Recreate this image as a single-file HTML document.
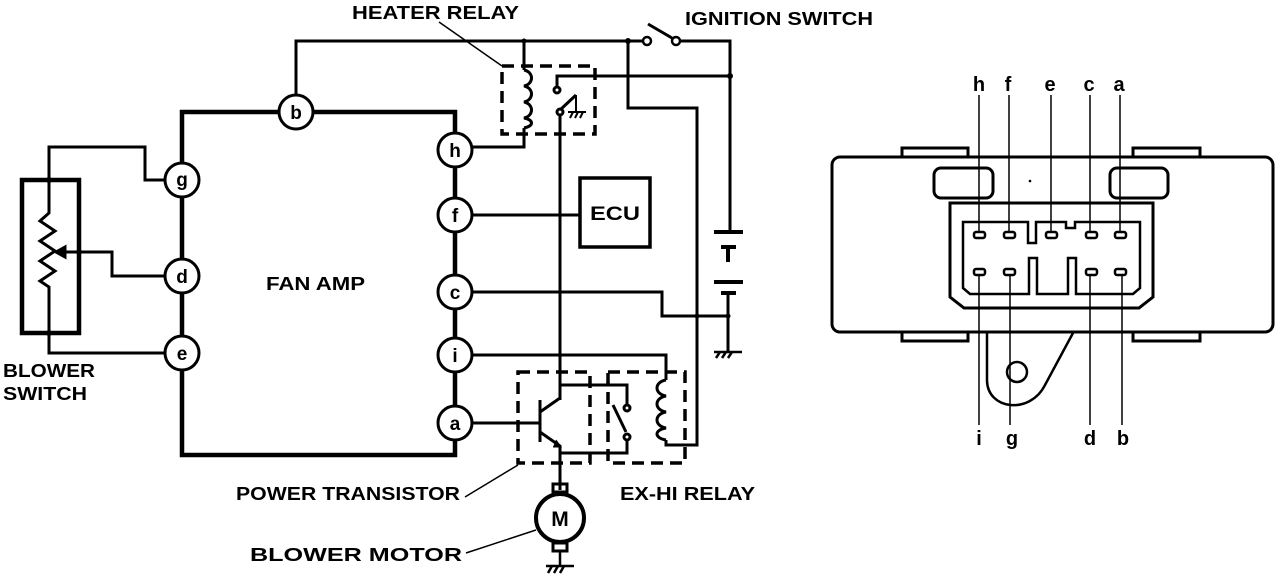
<!DOCTYPE html>
<html><head><meta charset="utf-8"><style>
html,body{margin:0;padding:0;background:#fff;width:1280px;height:582px;overflow:hidden}
svg{display:block}
text{font-family:"Liberation Sans",sans-serif;font-weight:bold;fill:#000}
</style></head><body>
<svg width="1280" height="582" viewBox="0 0 1280 582" xmlns="http://www.w3.org/2000/svg">
<g fill="none" stroke="#000" stroke-width="3" stroke-linejoin="miter">
<path d="M182,180 V112 H455 V455 H182 V180" stroke-width="4.5"/>
<path d="M296,112 V41 H643"/>
<path d="M680,41 H730 V232"/>
<line x1="648" y1="24" x2="672" y2="38"/>
<rect x="502" y="66" width="93" height="68" stroke-dasharray="12,7" stroke-width="3.5"/>
<path d="M524,41 V70 M524,128 V147 H472"/>
<path d="M524,70 c10,2 10,14 0,16 c10,2 10,14 0,16 c10,2 10,14 0,16 c10,2 10,8 0,10"/>
<path d="M730,76 H557 V88"/>
<circle cx="557" cy="90" r="3" fill="#fff"/>
<circle cx="560" cy="112" r="3" fill="#fff"/>
<line x1="560" y1="110" x2="576" y2="95"/>
<path d="M576,95 V112 M568,112 H586 M570,118 l3,-6 M575,118 l3,-6 M580,118 l3,-6" stroke-width="2"/>
<line x1="560" y1="115" x2="560" y2="400"/>
<path d="M628,41 V108 H697 V445 H666 V440"/>
<rect x="580" y="178" width="70" height="69" stroke-width="3.5"/>
<line x1="472" y1="215" x2="580" y2="215"/>
<path d="M472,292 H662 V316 H728"/>
<path d="M714,232 H743 M721,247 H736 M728,247 V262 M714,282 H743 M721,293 H736" stroke-width="4"/>
<path d="M728,293 V352"/>
<path d="M714,352 H742 M716,358 l4,-6 M722,358 l4,-6 M728,358 l4,-6" stroke-width="2.5"/>
<path d="M472,355 H666 V380"/>
<rect x="518" y="372" width="72" height="91" stroke-dasharray="12,7" stroke-width="3.5"/>
<rect x="608" y="372" width="77" height="91" stroke-dasharray="12,7" stroke-width="3.5"/>
<path d="M472,423 H540 M540,400 V442 M540,412 L560,398 M540,432 L560,446 V453 H627 V440 M560,453 V490 M560,385 H627 V405"/>
<path d="M556,440 l5,7 l-8,0" fill="#000" stroke-width="1"/>
<circle cx="627" cy="408" r="3" fill="#fff"/>
<circle cx="627" cy="437" r="3" fill="#fff"/>
<line x1="613" y1="405" x2="626" y2="432"/>
<path d="M666,380 c-12,2 -12,14 0,16 c-12,2 -12,14 0,16 c-12,2 -12,14 0,16 c-12,2 -12,10 0,12"/>
<rect x="553" y="484" width="14" height="8" stroke-width="3"/>
<circle cx="560" cy="518" r="24" stroke-width="4"/>
<rect x="553" y="543" width="14" height="8" stroke-width="3"/>
<path d="M560,551 V566 M546,566 H574 M548,573 l4,-7 M554,573 l4,-7 M560,573 l4,-7" stroke-width="2.5"/>
<rect x="22" y="180" width="57" height="153" stroke-width="4.5"/>
<path d="M182,180 H145 V147 H49 V180 V213 l-9,8 l15,10 l-15,10 l15,10 l-15,10 l15,10 l-15,10 l9,6 V333 V353 H165"/>
<path d="M79,252 H112 V276 H165 M79,252 H60"/>
<path d="M56,252 l9,-5 v10 z" fill="#000"/>
<line x1="439" y1="22" x2="502" y2="66" stroke-width="1.5"/>
<line x1="465" y1="497" x2="518" y2="465" stroke-width="1.5"/>
<line x1="466" y1="553" x2="536" y2="530" stroke-width="1.5"/>
</g>
<g fill="#fff" stroke="#000" stroke-width="2.5">
<circle cx="647" cy="41" r="4"/><circle cx="676" cy="41" r="4"/>
</g>
<g fill="#000">
<circle cx="49" cy="180" r="3"/><circle cx="79" cy="252" r="3"/><circle cx="49" cy="333" r="3"/>
<circle cx="524" cy="41" r="2.5"/><circle cx="628" cy="41" r="3"/><circle cx="730" cy="76" r="3"/>
<circle cx="697" cy="316" r="2.5"/><circle cx="728" cy="316" r="2.5"/>
</g>
<g fill="#fff" stroke="#000" stroke-width="3">
<circle cx="296" cy="112" r="17"/><circle cx="182" cy="180" r="17"/><circle cx="182" cy="276" r="17"/><circle cx="182" cy="353" r="17"/>
<circle cx="455" cy="150" r="17"/><circle cx="455" cy="215" r="17"/><circle cx="455" cy="292" r="17"/><circle cx="455" cy="355" r="17"/><circle cx="455" cy="423" r="17"/>
</g>
<g font-size="19" text-anchor="middle">
<text x="296" y="119">b</text><text x="182" y="186">g</text><text x="182" y="283">d</text><text x="182" y="360">e</text>
<text x="455" y="157">h</text><text x="455" y="222">f</text><text x="455" y="299">c</text><text x="455" y="362">i</text><text x="455" y="430">a</text>
<text x="615" y="220" textLength="50" lengthAdjust="spacingAndGlyphs">ECU</text><text x="560" y="526" font-size="21">M</text>
</g>
<g font-size="18">
<text x="352" y="19" textLength="167" lengthAdjust="spacingAndGlyphs">HEATER RELAY</text>
<text x="685" y="25" textLength="188" lengthAdjust="spacingAndGlyphs">IGNITION SWITCH</text>
<text x="266" y="290" textLength="99" lengthAdjust="spacingAndGlyphs">FAN AMP</text>
<text x="3" y="377" textLength="92" lengthAdjust="spacingAndGlyphs">BLOWER</text><text x="3" y="400" textLength="84" lengthAdjust="spacingAndGlyphs">SWITCH</text>
<text x="236" y="500" textLength="224" lengthAdjust="spacingAndGlyphs">POWER TRANSISTOR</text>
<text x="620" y="500" textLength="135" lengthAdjust="spacingAndGlyphs">EX-HI RELAY</text>
<text x="250" y="561" textLength="212" lengthAdjust="spacingAndGlyphs">BLOWER MOTOR</text>
</g>
<g fill="none" stroke="#000" stroke-width="3">
<path d="M902,157 V148 H968 V157 M1133,157 V148 H1200 V157 M902,332 V341 H968 V332 M1133,332 V341 H1200 V332"/>
<rect x="832" y="157" width="441" height="175" rx="8"/>
<rect x="934" y="168" width="59" height="30" rx="7"/>
<rect x="1110" y="168" width="58" height="30" rx="7"/>
<path d="M950,203 H1153 V297 L1139,308 H964 L950,297 Z"/>
<path d="M963,222 H1028 V243 H1036 V222 H1066 V228 H1075 V222 H1140 V288 L1133,294 H1076 V258 H1068 V294 H1037 V258 H1029 V294 H970 L963,288 Z" stroke-width="2.5"/>
<path d="M987,332 V380 C987,410 1030,415 1045,385 L1073,333" stroke-width="2.5"/>
<circle cx="1017" cy="372" r="10" stroke-width="2.5"/>
</g>
<g stroke="#000" stroke-width="1.5">
<line x1="979" y1="95" x2="979" y2="235"/><line x1="1009" y1="95" x2="1009" y2="235"/><line x1="1051" y1="95" x2="1051" y2="235"/><line x1="1090" y1="95" x2="1090" y2="235"/><line x1="1120" y1="95" x2="1120" y2="235"/>
<line x1="979" y1="272" x2="979" y2="425"/><line x1="1010" y1="272" x2="1010" y2="425"/><line x1="1090" y1="272" x2="1090" y2="425"/><line x1="1122" y1="272" x2="1122" y2="425"/>
</g>
<g fill="#fff" stroke="#000" stroke-width="2.5">
<rect x="974" y="232" width="11" height="6" rx="2"/><rect x="1004" y="232" width="11" height="6" rx="2"/><rect x="1046" y="232" width="11" height="6" rx="2"/><rect x="1086" y="232" width="11" height="6" rx="2"/><rect x="1115" y="232" width="11" height="6" rx="2"/>
<rect x="974" y="269" width="11" height="6" rx="2"/><rect x="1004" y="269" width="11" height="6" rx="2"/><rect x="1086" y="269" width="11" height="6" rx="2"/><rect x="1115" y="269" width="11" height="6" rx="2"/>
</g>
<circle cx="1030" cy="181" r="1.3" fill="#000"/>
<g font-size="20" text-anchor="middle" font-weight="normal">
<text x="979" y="91">h</text><text x="1008" y="91">f</text><text x="1050" y="91">e</text><text x="1089" y="91">c</text><text x="1119" y="91">a</text>
<text x="979" y="445">i</text><text x="1012" y="445">g</text><text x="1090" y="445">d</text><text x="1123" y="445">b</text>
</g>
</svg>
</body></html>
